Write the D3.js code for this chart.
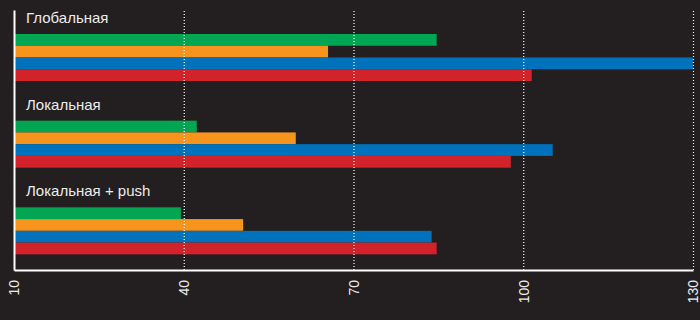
<!DOCTYPE html>
<html>
<head>
<meta charset="utf-8">
<script src="https://cdn.jsdelivr.net/npm/d3@7"></script>
<style>
    body { margin: 0; background: #231f20; }
    svg { display: block; font-family: "Liberation Sans", Arial, sans-serif; }
</style>
</head>
<body>
<div id="container"></div>
<script>
var categories = ["Глобальная", "Локальная", "Локальная + push"];
var series = ["s1", "s2", "s3", "s4"];
var colors = ["#00a651", "#f7941d", "#0072bc", "#d2232a"];
var s1 = [84.7, 42.3, 39.5];
var s2 = [65.5, 59.8, 50.5];
var s3 = [130, 105.2, 83.8];
var s4 = [101.5, 97.8, 84.7];
var tickValues = [10, 40, 70, 100, 130];

(function() {
    "use strict";

    var values = [s1, s2, s3, s4];
    var margin = { top: 10, bottom: 50, left: 14, right: 7 };
    var width = 700 - margin.left - margin.right,
        height = 320 - margin.top - margin.bottom;

    var x = d3.scaleLinear().domain([10, 130]).range([0, width]);
    var y0 = d3.scaleBand().domain(categories).range([0, height]);
    var y1 = d3.scaleBand().domain(series).range([24, 71]);

    var svg = d3.select("#container").append("svg")
        .attr("width", 700)
        .attr("height", 320)
        .style("background-color", "#231f20");

    var graph = svg.append("g")
        .attr("transform", "translate(" + margin.left + "," + margin.top + ")");

    var groups = graph.selectAll(".group")
        .data(categories)
        .enter().append("g")
            .attr("class", "group")
            .attr("transform", function(d) { return "translate(0," + y0(d) + ")"; });

    groups.append("text")
        .attr("x", 12)
        .attr("y", 13)
        .attr("fill", "#ececec")
        .style("font-size", "15px")
        .text(function(d) { return d; });

    groups.selectAll("rect")
        .data(function(d, i) {
            return series.map(function(s, j) { return { s: s, v: values[j][i], c: colors[j] }; });
        })
        .enter().append("rect")
            .attr("x", x(10))
            .attr("y", function(d) { return y1(d.s); })
            .attr("width", function(d) { return x(d.v) - x(10); })
            .attr("height", y1.bandwidth())
            .attr("fill", function(d) { return d.c; });

    // dotted grid
    var grid = graph.append("g")
        .attr("transform", "translate(0," + height + ")")
        .call(d3.axisBottom(x).tickValues(tickValues.slice(1)).tickSize(-height).tickFormat(""));
    grid.select(".domain").remove();
    grid.selectAll("line")
        .attr("stroke", "#ffffff")
        .attr("stroke-width", 1.2)
        .attr("stroke-dasharray", "1,2");

    // axes
    var xAxis = graph.append("g")
        .attr("transform", "translate(0," + height + ")")
        .call(d3.axisBottom(x).tickValues(tickValues).tickSize(0));
    xAxis.select(".domain").attr("stroke", "#ffffff").attr("stroke-width", 2);
    xAxis.selectAll("text")
        .attr("fill", "#ececec")
        .style("font-size", "14px")
        .attr("text-anchor", "end")
        .attr("y", 0)
        .attr("dy", "0.35em")
        .attr("transform", "translate(0,10) rotate(-90)");

    var yAxis = graph.append("g")
        .call(d3.axisLeft(y0).tickSize(0).tickFormat(""));
    yAxis.select(".domain").attr("stroke", "#ffffff").attr("stroke-width", 2);
})();
</script>
</body>
</html>
